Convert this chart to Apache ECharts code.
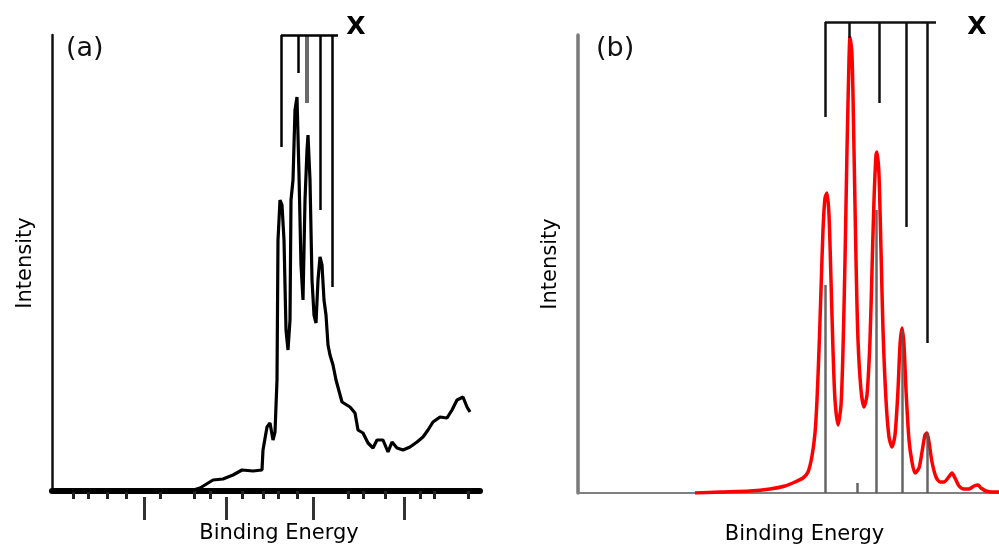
<!DOCTYPE html>
<html>
<head>
<meta charset="utf-8">
<script src="https://cdn.jsdelivr.net/npm/echarts@6/dist/echarts.min.js"></script>
<style>
html,body{margin:0;padding:0;background:#fff;}
#chart{width:999px;height:554px;}
</style>
</head>
<body>
<div id="chart"></div>
<script>
// ---------- Panel (a): measured spectrum (arbitrary units) ----------
const energyA = [0,138,148,161,171,181,190,201,210,211,215,218,221,223,225,226,228,230,232,234,236,238,239,241,243,245,247,249,251,253,255,256,258,260,262,264,266,268,270,272,274,276,278,281,284,290,298,303,306,311,316,321,325,331,336,340,345,351,358,365,371,376,381,388,395,400,405,411,415,418];
const intensityA = [0,0,3,11,12,16,21,20,21,41,64,68,51,59,111,251,291,286,251,161,141,171,291,311,381,394,316,226,191,291,341,356,311,211,176,168,211,234,226,191,176,146,136,126,111,89,84,78,61,58,48,43,51,51,39,49,43,41,44,49,54,61,69,74,73,81,91,94,84,79];
const markerPosA = [229,246,255,268,280];
const markerEndA = [344,418,388,281,204];
const bracketTopA = 456;
const bracketEndA = 286;
const majorTicksA = [92,174,261,352];
const minorTicksA = [21,36,55,74,108,142,158,190,211,226,245,296,311,333,368,382,416];

// ---------- Panel (b): simulated spectrum (arbitrary units) ----------
const energyB = [117,142,172,192,207,217,225,230,234,237,239,241,243,245,247,249,251,253,255,257,260,263,265,267,269,271,272,274,276,278,280,283,286,289,292,294,296,298,299,301,303,305,308,311,314,317,320,322,324,326,328,331,334,337,341,344,347,349,351,354,358,362,366,370,374,377,381,386,391,396,400,403,408,414,421];
const intensityB = [0,1,2,4,7,11,15,21,37,60,93,143,203,263,295,300,278,213,143,93,68,88,143,233,343,433,456,438,343,233,153,103,86,98,153,223,293,338,341,318,243,163,93,56,46,58,103,148,165,148,103,53,31,20,25,41,58,60,51,31,16,11,11,15,20,15,7,4,4,7,8,5,2,1,1];
const stickPosB = [247,279,298,324,349];
const stickHeightB = [208,10,283,163,60];
const markerPosB = [247,271,301,328,349];
const markerEndB = [376,455,390,266,150];
const bracketTopB = 471;
const bracketEndB = 358;

// labels
const panelLabels = ['(a)','(b)'];
const markerLabel = 'X';
const xName = 'Binding Energy';
const yName = 'Intensity';

const FONT = 'DejaVu Sans';
const GRAY_MARKER_A = 2;

function zip(xs, ys){ return xs.map((x,i)=>[x, ys[i]]); }

function markerLines(pos, ends, top, bracketEnd, grayIndex){
  const out = pos.map((x,i)=>{
    const item = {coords:[[x, top],[x, ends[i]]]};
    if(i === grayIndex){ item.lineStyle = {color:'#6a6a6a', width:4}; }
    return item;
  });
  out.push({coords:[[pos[0], top],[bracketEnd, top]]});
  return out;
}

const chart = echarts.init(document.getElementById('chart'), null, {renderer:'canvas'});

const hiddenAxisBits = {axisTick:{show:false}, axisLabel:{show:false}, splitLine:{show:false}};

const option = {
  animation:false,
  backgroundColor:'#ffffff',
  textStyle:{fontFamily:FONT},
  grid:[
    {left:52, top:35, width:428, height:456},
    {left:578, top:35, width:421, height:458}
  ],
  xAxis:[
    Object.assign({type:'value', gridIndex:0, min:0, max:428,
      axisLine:{show:true, onZero:false, lineStyle:{color:'#000', width:6}},
      name:xName, nameLocation:'middle', nameGap:32,
      nameTextStyle:{fontFamily:FONT, fontSize:21, color:'#000', padding:[0,0,0,26]}
    }, hiddenAxisBits),
    {type:'value', gridIndex:0, min:0, max:428, position:'bottom', offset:6,
      axisLine:{show:false},
      axisTick:{show:true, customValues:minorTicksA, length:8, lineStyle:{color:'#222', width:3}},
      axisLabel:{show:false, customValues:minorTicksA}, splitLine:{show:false}},
    {type:'value', gridIndex:0, min:0, max:428, position:'bottom', offset:6,
      axisLine:{show:false},
      axisTick:{show:true, customValues:majorTicksA, length:23, lineStyle:{color:'#333', width:3}},
      axisLabel:{show:false, customValues:majorTicksA}, splitLine:{show:false}},
    Object.assign({type:'value', gridIndex:1, min:0, max:421,
      axisLine:{show:true, onZero:false, lineStyle:{color:'#808080', width:2}},
      name:xName, nameLocation:'middle', nameGap:31,
      nameTextStyle:{fontFamily:FONT, fontSize:21, color:'#000', padding:[0,0,0,32]}
    }, hiddenAxisBits)
  ],
  yAxis:[
    Object.assign({type:'value', gridIndex:0, min:0, max:456,
      axisLine:{show:true, onZero:false, lineStyle:{color:'#111', width:2.5}},
      name:yName, nameLocation:'middle', nameRotate:90, nameGap:16,
      nameTextStyle:{fontFamily:FONT, fontSize:21, color:'#000', padding:[10,0,0,0]}
    }, hiddenAxisBits),
    Object.assign({type:'value', gridIndex:1, min:0, max:458,
      axisLine:{show:true, onZero:false, lineStyle:{color:'#7a7a7a', width:3.5}},
      name:yName, nameLocation:'middle', nameRotate:90, nameGap:17,
      nameTextStyle:{fontFamily:FONT, fontSize:21, color:'#000', padding:[12,0,0,0]}
    }, hiddenAxisBits)
  ],
  series:[
    {type:'line', xAxisIndex:0, yAxisIndex:0, data:zip(energyA, intensityA),
      symbol:'none', lineStyle:{color:'#000', width:3.2}, z:3},
    {type:'lines', coordinateSystem:'cartesian2d', xAxisIndex:0, yAxisIndex:0,
      clip:false, silent:true,
      lineStyle:{color:'#000', width:2.5, opacity:1},
      data:markerLines(markerPosA, markerEndA, bracketTopA, bracketEndA, GRAY_MARKER_A), z:4},
    {type:'line', xAxisIndex:3, yAxisIndex:1, data:zip(energyB, intensityB),
      symbol:'none', smooth:0.25, lineStyle:{color:'#ff0000', width:3.5}, z:3},
    {type:'lines', coordinateSystem:'cartesian2d', xAxisIndex:3, yAxisIndex:1,
      clip:false, silent:true,
      lineStyle:{color:'#555', width:2.5, opacity:0.9},
      data:stickPosB.map((x,i)=>({coords:[[x,0],[x,stickHeightB[i]]]})), z:4},
    {type:'lines', coordinateSystem:'cartesian2d', xAxisIndex:3, yAxisIndex:1,
      clip:false, silent:true,
      lineStyle:{color:'#111', width:2.5, opacity:1},
      data:markerLines(markerPosB, markerEndB, bracketTopB, bracketEndB, -1), z:5}
  ],
  graphic:[
    {type:'text', left:66, top:35, style:{text:panelLabels[0], font:'27px "DejaVu Sans"', fill:'#111'}},
    {type:'text', left:596, top:35, style:{text:panelLabels[1], font:'27px "DejaVu Sans"', fill:'#111'}},
    {type:'text', x:356, y:27, style:{text:markerLabel, font:'bold 25px "DejaVu Sans"', fill:'#000', align:'center', verticalAlign:'middle'}},
    {type:'text', x:977, y:27, style:{text:markerLabel, font:'bold 25px "DejaVu Sans"', fill:'#000', align:'center', verticalAlign:'middle'}}
  ]
};
chart.setOption(option);
</script>
</body>
</html>
